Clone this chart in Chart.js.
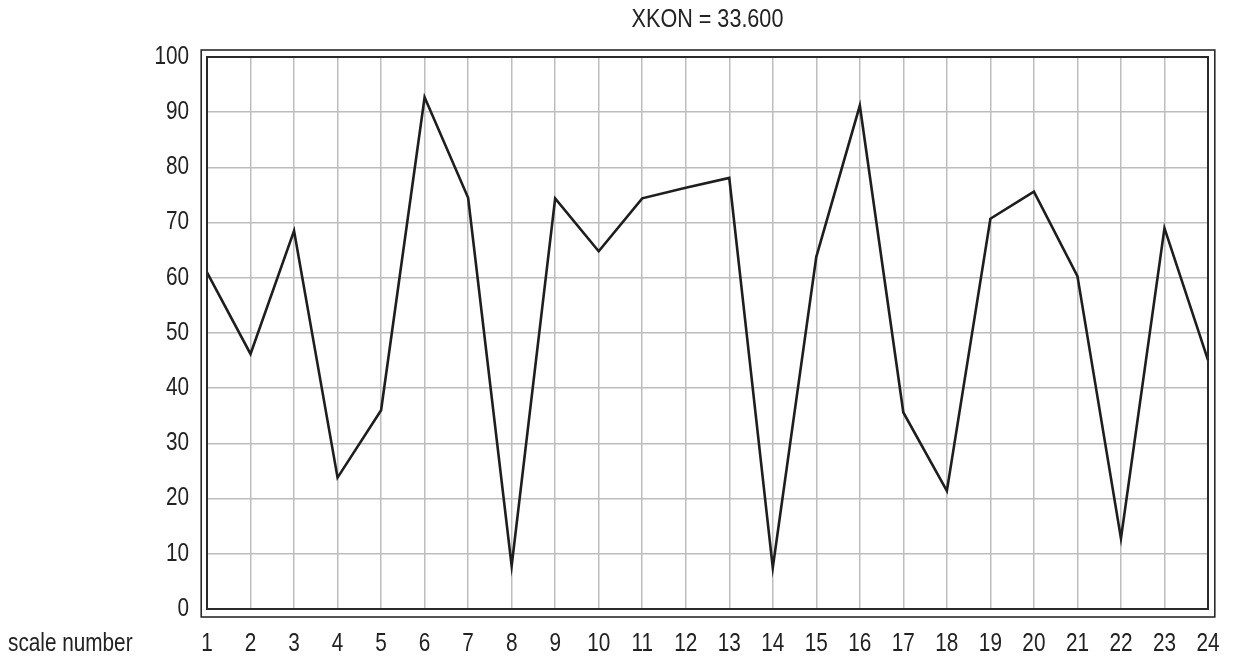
<!DOCTYPE html>
<html>
<head>
<meta charset="utf-8">
<script src="https://cdn.jsdelivr.net/npm/chart.js@4"></script>
<style>
html,body{margin:0;padding:0;background:#fff;}
canvas{display:block;}
</style>
</head>
<body>
<canvas id="c" width="1238" height="659"></canvas>
<script>
// ---- data ----
const scaleNumbers = ['1','2','3','4','5','6','7','8','9','10','11','12','13','14','15','16','17','18','19','20','21','22','23','24'];
const values = [61.0, 46.2, 68.5, 23.8, 36.0, 92.7, 74.5, 7.8, 74.4, 64.8, 74.4, 76.3, 78.1, 7.5, 63.8, 91.2, 35.6, 21.4, 70.7, 75.6, 60.3, 12.8, 69.0, 45.1];
const yTicks = [0,10,20,30,40,50,60,70,80,90,100];
const titleText = 'XKON = 33.600';
const axisLabel = 'scale number';

const FAMILY = '"Liberation Sans", Arial, Helvetica, sans-serif';
const TICK_SIZE = 25;
const TITLE_SIZE = 26;
const SQUEEZE = 0.83;   // horizontal condensing of the text (narrow Helvetica look)
const TEXT = '#222';

const canvas = document.getElementById('c');
const ctx = canvas.getContext('2d');
// draw all text horizontally condensed around its anchor point
const origFill = ctx.fillText.bind(ctx);
ctx.fillText = function(t, x, y, mw){
  this.save();
  this.translate(x, y);
  this.scale(SQUEEZE, 1);
  origFill(t, 0, 0);
  this.restore();
};

const frame = {
  id:'frame',
  afterDraw(chart){
    const {ctx, chartArea:a} = chart;
    ctx.save();
    ctx.strokeStyle = '#2a2a2a';
    ctx.lineWidth = 2;
    ctx.strokeRect(a.left, a.top, a.right-a.left, a.bottom-a.top);
    ctx.lineWidth = 1.6;
    ctx.strokeRect(a.left-5.8, a.top-7, (a.right-a.left)+12.6, (a.bottom-a.top)+15);
    // axis caption to the left of x tick labels
    const xs = chart.scales.x;
    const lh = TICK_SIZE*1.2;
    ctx.font = TICK_SIZE+'px '+FAMILY;
    ctx.fillStyle = TEXT;
    ctx.textAlign = 'left';
    ctx.textBaseline = 'middle';
    ctx.fillText(axisLabel, 8, xs.top + 20 + lh/2);
    ctx.restore();
  }
};

new Chart(ctx, {
  type:'line',
  data:{
    labels: scaleNumbers,
    datasets:[{
      data: values,
      borderColor:'#1e1e1e',
      borderWidth:2.6,
      pointRadius:0,
      tension:0,
      fill:false,
      clip:false
    }]
  },
  options:{
    responsive:false,
    animation:false,
    devicePixelRatio:1,
    layout:{padding:{left:0,right:30,top:0,bottom:0}},
    plugins:{
      legend:{display:false},
      tooltip:{enabled:false},
      title:{
        display:true,
        text:titleText,
        fullSize:false,
        color:TEXT,
        font:{family:FAMILY,size:TITLE_SIZE,weight:'normal',lineHeight:1.2},
        padding:{top:4.4,bottom:21.4}
      }
    },
    scales:{
      x:{
        type:'category',
        offset:false,
        border:{display:false},
        grid:{color:'#bdbdbd',lineWidth:1.5,drawTicks:false},
        ticks:{color:TEXT,font:{family:FAMILY,size:TICK_SIZE},padding:20,maxRotation:0,minRotation:0,autoSkip:false},
        afterFit(s){ s.height = 50; s.paddingLeft = 0; s.paddingRight = 0; }
      },
      y:{
        min:0,max:100,
        border:{display:false},
        grid:{color:'#bdbdbd',lineWidth:1.5,drawTicks:false},
        ticks:{color:TEXT,font:{family:FAMILY,size:TICK_SIZE},padding:18,stepSize:10,
          callback:(v)=> yTicks.includes(v) ? String(v) : ''},
        afterFit(s){ s.width = 207; s.paddingTop = 0; s.paddingBottom = 0; }
      }
    }
  },
  plugins:[frame]
});
</script>
</body>
</html>
